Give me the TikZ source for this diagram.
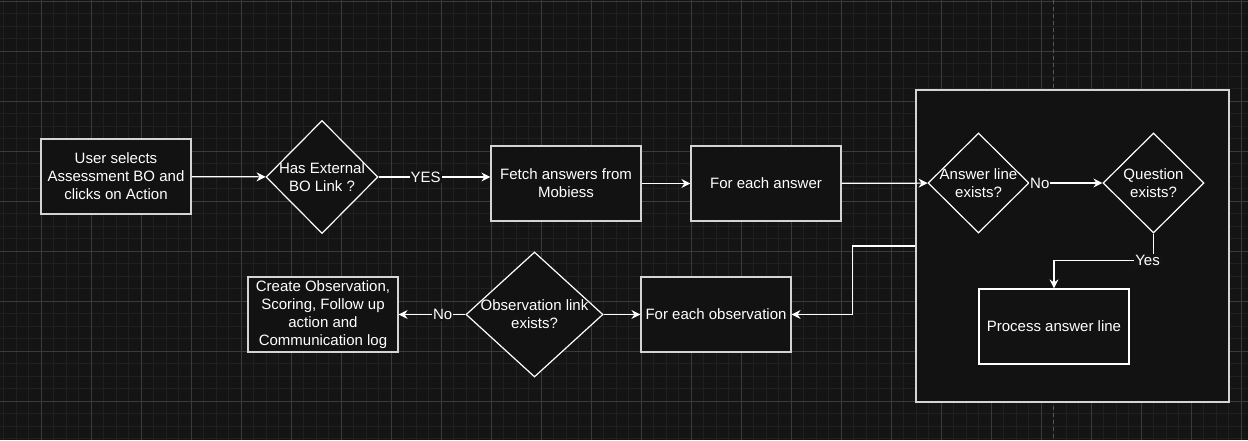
\documentclass[tikz,border=0pt]{standalone}
\usepackage{fontspec}
\setmainfont{Liberation Sans}
\usetikzlibrary{arrows.meta,shapes.geometric}

\definecolor{canvas}{RGB}{20,20,20}
\definecolor{minorgrid}{RGB}{32,32,32}
\definecolor{majorgrid}{RGB}{58,58,58}
\definecolor{pagebreak}{RGB}{85,85,85}
\definecolor{boxfill}{RGB}{18,18,18}
\definecolor{boxline}{RGB}{212,212,212}

\begin{document}
\begin{tikzpicture}[x=1pt,y=-1pt]
            \tikzset{txt/.style = {text=white,font=\fontsize{15}{18}\selectfont,align=center}}
            \tikzset{block/.style = {shape=rectangle,draw=boxline,fill=boxfill,line width=1.2pt,minimum width=150pt,minimum height=75pt,txt}}
            \tikzset{decision/.style = {shape=diamond,draw=white,fill=boxfill,line width=1.2pt,inner sep=0pt}}
            \tikzset{edge/.style = {->,> = {Stealth[length=9pt,width=9pt,inset=3pt]},draw=white,line width=1.2pt}}
            \tikzset{lbl/.style = {fill=canvas,inner sep=1pt,txt}}
            % canvas and grid
            \fill[canvas] (0,0) rectangle (1248,440);
            \useasboundingbox (0,0) rectangle (1248,440);
            \foreach \gx in {3.5,16,...,1248} \draw[minorgrid,line width=1pt] (\gx,0) -- (\gx,440);
            \foreach \gy in {1,13.5,...,440} \draw[minorgrid,line width=1pt] (0,\gy) -- (1248,\gy);
            \foreach \gx in {41,91,...,1241} \draw[majorgrid,line width=1pt] (\gx,0) -- (\gx,440);
            \foreach \gy in {1,51,...,401} \draw[majorgrid,line width=1pt] (0,\gy) -- (1248,\gy);
            \draw[pagebreak,line width=1.2pt,dash pattern=on 4pt off 3pt] (1053.5,0) -- (1053.5,440);
            % vertices
            \node[shape=rectangle,draw=boxline,fill=boxfill,line width=1.2pt,minimum width=313pt,minimum height=312pt] (loop) at (1072.5,246) {};
            \node[block] (usersel) at (116,176.5) {User selects\\Assessment BO and\\clicks on Action};
            \node[decision,minimum width=112pt,minimum height=113pt,label={[txt]center:Has External\\BO Link ?}] (hasext) at (322,177) {};
            \node[block] (fetch) at (566,183.5) {Fetch answers from\\Mobiess};
            \node[block] (eachans) at (766,183.5) {For each answer};
            \node[decision,minimum width=101pt,minimum height=100pt,label={[txt]center:Answer line\\exists?}] (ansex) at (978.5,183) {};
            \node[decision,minimum width=101pt,minimum height=100pt,label={[txt]center:Question\\exists?}] (qex) at (1153.5,183) {};
            \node[block,draw=white] (proc) at (1054,326.5) {Process answer line};
            \node[block] (eachobs) at (716,314.5) {For each observation};
            \node[decision,minimum width=137pt,minimum height=125pt,label={[txt]center:Observation link\\exists?}] (obsex) at (534.5,314.5) {};
            \node[block] (create) at (323,314.5) {Create Observation,\\Scoring, Follow up\\action and\\Communication log};
            %edges
            \draw[edge] (usersel) to (hasext);
            \draw[edge] (hasext.east) to node[lbl,pos=0.42] {YES} (hasext.east -| fetch.west);
            \draw[edge] (fetch) to (eachans);
            \draw[edge] (eachans) to (ansex);
            \draw[edge] (ansex.east) to node[lbl,pos=0.14] {No} (qex.west);
            \draw[edge] (qex.south) -- ++(0,27) -| node[lbl,pos=0.03] {Yes} (proc.north);
            \draw[edge] (loop.west) -- ++(-63,0) |- (eachobs.east);
            \draw[edge] (obsex.west) to node[lbl,pos=0.34] {No} (create.east);
            \draw[edge] (obsex.east) to (eachobs.west);
        \end{tikzpicture}
\end{document}
